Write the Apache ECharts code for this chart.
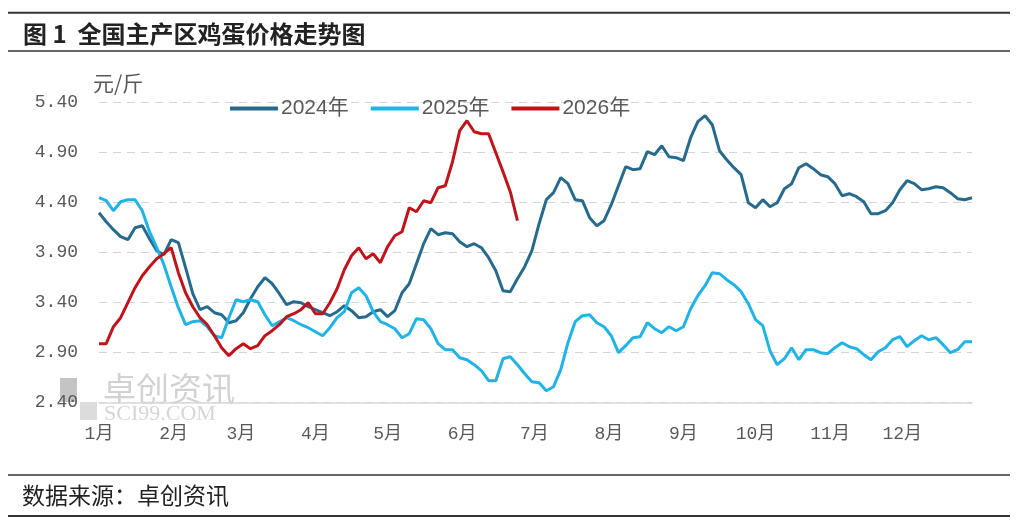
<!DOCTYPE html>
<html>
<head>
<meta charset="utf-8">
<script src="https://cdn.jsdelivr.net/npm/echarts@6/dist/echarts.min.js"></script>
<style>
html, body { margin: 0; padding: 0; background: #fff; }
#main { width: 1017px; height: 526px; }
</style>
</head>
<body>
<div id="main"></div>
<script>
// 数据：每3天一个点（按日历日对齐，1月1日起）
var startYear = 2025, stepDays = 3;
var seriesNames = ['2024年', '2025年', '2026年'];
var monthLabels = ['1月', '2月', '3月', '4月', '5月', '6月', '7月', '8月', '9月', '10月', '11月', '12月'];
var yTicks = [2.40, 2.90, 3.40, 3.90, 4.40, 4.90, 5.40];

var price2024 = [4.30, 4.21, 4.13, 4.06, 4.03, 4.15, 4.17, 4.04, 3.92, 3.88,
    4.03, 4.00, 3.75, 3.49, 3.33, 3.36, 3.30, 3.28, 3.20, 3.22,
    3.30, 3.44, 3.56, 3.65, 3.59, 3.49, 3.38, 3.41, 3.40, 3.36,
    3.33, 3.30, 3.27, 3.31, 3.37, 3.32, 3.25, 3.26, 3.31, 3.33,
    3.26, 3.32, 3.50, 3.59, 3.79, 3.99, 4.14, 4.08, 4.10, 4.09,
    4.01, 3.96, 3.99, 3.95, 3.85, 3.72, 3.52, 3.51, 3.64, 3.76,
    3.92, 4.19, 4.43, 4.50, 4.65, 4.59, 4.43, 4.42, 4.25, 4.17,
    4.22, 4.38, 4.57, 4.76, 4.73, 4.74, 4.91, 4.88, 4.97, 4.86,
    4.85, 4.82, 5.05, 5.21, 5.27, 5.18, 4.92, 4.83, 4.75, 4.68,
    4.40, 4.35, 4.43, 4.36, 4.40, 4.54, 4.59, 4.75, 4.79, 4.74,
    4.68, 4.66, 4.59, 4.47, 4.49, 4.46, 4.41, 4.29, 4.29, 4.32,
    4.40, 4.53, 4.62, 4.59, 4.53, 4.54, 4.56, 4.55, 4.50, 4.44,
    4.43, 4.45];

var price2025 = [4.45, 4.42, 4.32, 4.41, 4.43, 4.43, 4.32, 4.11, 3.95, 3.78,
    3.56, 3.35, 3.18, 3.21, 3.22, 3.16, 3.07, 3.05, 3.25, 3.43,
    3.41, 3.43, 3.41, 3.28, 3.17, 3.21, 3.25, 3.22, 3.18, 3.15,
    3.11, 3.07, 3.15, 3.25, 3.31, 3.50, 3.55, 3.47, 3.31, 3.21,
    3.18, 3.14, 3.05, 3.09, 3.24, 3.23, 3.14, 2.99, 2.93, 2.93,
    2.85, 2.83, 2.78, 2.72, 2.62, 2.62, 2.84, 2.86, 2.78, 2.69,
    2.61, 2.60, 2.52, 2.56, 2.73, 3.00, 3.21, 3.27, 3.28, 3.20,
    3.16, 3.07, 2.90, 2.97, 3.05, 3.06, 3.20, 3.14, 3.10, 3.16,
    3.12, 3.16, 3.34, 3.47, 3.57, 3.70, 3.69, 3.63, 3.58, 3.51,
    3.39, 3.23, 3.17, 2.92, 2.78, 2.84, 2.95, 2.83, 2.93, 2.93,
    2.90, 2.89, 2.95, 3.00, 2.96, 2.94, 2.88, 2.83, 2.91, 2.95,
    3.03, 3.06, 2.96, 3.02, 3.07, 3.03, 3.05, 2.98, 2.90, 2.93,
    3.01, 3.01];

var price2026 = [2.99, 2.99, 3.16, 3.25, 3.40, 3.55, 3.67, 3.76, 3.84, 3.89,
    3.95, 3.70, 3.50, 3.36, 3.25, 3.18, 3.07, 2.95, 2.87, 2.94,
    2.99, 2.94, 2.97, 3.07, 3.12, 3.18, 3.26, 3.29, 3.33, 3.40,
    3.29, 3.29, 3.40, 3.54, 3.73, 3.87, 3.95, 3.84, 3.89, 3.80,
    3.96, 4.07, 4.11, 4.35, 4.31, 4.42, 4.40, 4.55, 4.57, 4.81,
    5.12, 5.22, 5.11, 5.09, 5.09, 4.90, 4.71, 4.51, 4.22];

var colors = ['#266a8e', '#1fb3e6', '#c1131a'];

// 日期（同一年内的日历位置）
var days = [];
for (var i = 0; i < price2024.length; i++) {
    days.push(new Date(startYear, 0, 1 + i * stepDays).getTime());
}
function pairUp(values) {
    return values.map(function (v, i) { return [days[i], v]; });
}

var gray = '#595959';
var cjk = '"Noto Sans CJK SC", sans-serif';
var chart = echarts.init(document.getElementById('main'), null, { renderer: 'canvas' });

var option = {
    backgroundColor: '#fff',
    animation: false,
    color: colors,
    grid: { left: 99, right: 45, top: 102.7, bottom: 123.3 },
    legend: {
        top: 93,
        left: 225,
        icon: 'rect',
        itemWidth: 48,
        itemHeight: 4,
        itemGap: 22,
        textStyle: { color: gray, fontSize: 21, fontFamily: '"Liberation Sans", "Noto Sans CJK SC"', padding: [0, 0, 0, -2] },
        data: seriesNames
    },
    xAxis: {
        type: 'time',
        min: days[0],
        max: days[days.length - 1],
        minInterval: 28 * 86400000,
        maxInterval: 31 * 86400000,
        axisLine: { show: true, lineStyle: { color: '#d9d9d9', width: 1.5 } },
        axisTick: { show: false },
        splitLine: { show: false },
        axisLabel: {
            color: gray,
            fontSize: 18,
            fontFamily: '"Liberation Mono", "Noto Sans CJK SC"',
            margin: 23,
            showMaxLabel: false,
            formatter: function (val) { return monthLabels[new Date(val).getMonth()]; }
        }
    },
    yAxis: {
        type: 'value',
        min: yTicks[0],
        max: yTicks[yTicks.length - 1],
        interval: 0.5,
        axisLine: { show: false },
        axisTick: { show: false },
        splitLine: { lineStyle: { color: '#d4d4d4', type: [8, 6], width: 1.2 } },
        axisLabel: {
            color: gray,
            fontSize: 18,
            fontFamily: '"Liberation Mono", monospace',
            margin: 21,
            formatter: function (v) { return v.toFixed(2); }
        }
    },
    graphic: [
        { type: 'line', shape: { x1: 8, y1: 12.7, x2: 1010, y2: 12.7 }, style: { stroke: '#333', lineWidth: 2 } },
        { type: 'line', shape: { x1: 8, y1: 51, x2: 1010, y2: 51 }, style: { stroke: '#333', lineWidth: 1.5 } },
        { type: 'text', left: 23, top: 22, style: { text: '图 1  全国主产区鸡蛋价格走势图', font: 'bold 24px ' + cjk, fill: '#222' } },
        { type: 'text', left: 93, top: 73, style: { text: '元/斤', font: '21px ' + cjk, fill: gray } },
        // 水印
        { type: 'rect', shape: { x: 60, y: 378, width: 17, height: 24 }, style: { fill: '#c4c4c4' }, z: 0 },
        { type: 'rect', shape: { x: 80, y: 402, width: 17, height: 18 }, style: { fill: '#dcdcdc' }, z: 0 },
        { type: 'text', left: 103, top: 372, style: { text: '卓创资讯', font: '33px ' + cjk, fill: '#d2d2d2' }, z: 0 },
        { type: 'text', left: 104, top: 403, style: { text: 'SCI99.COM', font: '22px "Liberation Serif", serif', fill: '#d6d6d6' }, z: 0 },
        { type: 'line', shape: { x1: 8, y1: 475, x2: 1010, y2: 475 }, style: { stroke: '#333', lineWidth: 1.5 } },
        { type: 'text', left: 22, top: 484, style: { text: '数据来源：卓创资讯', font: '23px ' + cjk, fill: '#222' } },
        { type: 'line', shape: { x1: 8, y1: 516, x2: 1010, y2: 516 }, style: { stroke: '#333', lineWidth: 2 } }
    ],
    series: [
        { name: seriesNames[0], type: 'line', data: pairUp(price2024), showSymbol: false, lineStyle: { width: 3 } },
        { name: seriesNames[1], type: 'line', data: pairUp(price2025), showSymbol: false, lineStyle: { width: 3 } },
        { name: seriesNames[2], type: 'line', data: pairUp(price2026), showSymbol: false, lineStyle: { width: 3 } }
    ]
};
chart.setOption(option);
</script>
</body>
</html>
